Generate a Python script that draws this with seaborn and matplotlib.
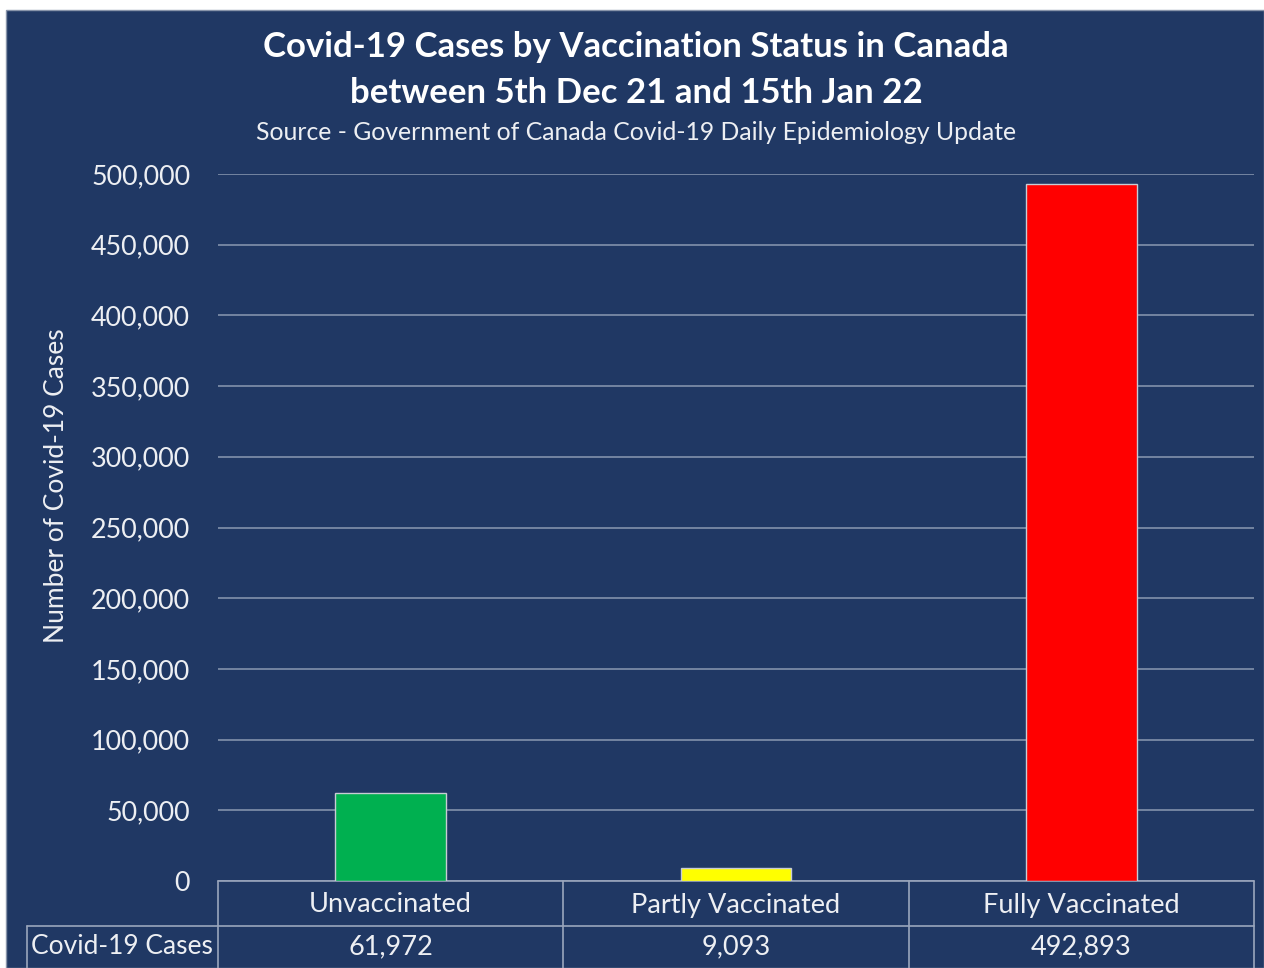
import matplotlib
matplotlib.use("Agg")
import matplotlib.pyplot as plt
import matplotlib.ticker as mticker
from matplotlib.patches import Rectangle
import pandas as pd
import seaborn as sns

# ------------------------------------------------------------
# data
# ------------------------------------------------------------
statuses = ["Unvaccinated", "Partly Vaccinated", "Fully Vaccinated"]
cases = [61972, 9093, 492893]
bar_colors = ["#00B050", "#FFFF00", "#FF0000"]
row_label = "Covid-19 Cases"

title_lines = ["Covid-19 Cases by Vaccination Status in Canada",
               "between 5th Dec 21 and 15th Jan 22"]
subtitle = "Source - Government of Canada Covid-19 Daily Epidemiology Update"

df = pd.DataFrame({"Status": statuses, "Cases": cases})

NAVY = "#203864"
GRID = "#7A8AA6"
TXT = "#EDEFF3"

sns.set_theme(style="white")
plt.rcParams["font.family"] = ["Lato", "DejaVu Sans"]

W, H = 1264, 968
fig = plt.figure(figsize=(W / 100, H / 100), dpi=100, facecolor="white")
fig.patches.append(Rectangle((6 / W, 0), 1 - 6 / W, 1 - 10 / H,
                             transform=fig.transFigure, facecolor=NAVY,
                             edgecolor="#8894AA", lw=1.0, zorder=-5))

left, right = 218 / W, 1254 / W
bottom, top = 1 - 881 / H, 1 - 174 / H
ax = fig.add_axes([left, bottom, right - left, top - bottom])
ax.set_facecolor("none")
ax.set_zorder(2)

sns.barplot(data=df, x="Status", y="Cases", hue="Status", palette=bar_colors,
            legend=False, width=0.32, saturation=1, edgecolor="#C8CCD4",
            linewidth=1.0, ax=ax, zorder=3)

ax.set_xlim(-0.5, 2.5)
ax.set_ylim(0, 500000)
ax.yaxis.set_major_locator(mticker.MultipleLocator(50000))
ax.yaxis.set_major_formatter(mticker.FuncFormatter(lambda v, p: f"{int(v):,}"))
ax.grid(axis="y", color=GRID, lw=1.3, zorder=0)
ax.grid(axis="x", visible=False)
ax.set_axisbelow(True)
for s in ax.spines.values():
    s.set_visible(False)
ax.tick_params(axis="y", length=0, pad=20, labelsize=19.4, labelcolor=TXT)
ax.set_xticks([])
ax.set_xlabel("")
ax.set_ylabel("Number of Covid-19 Cases", fontsize=19, color=TXT)
# Excel centres the title a little above the middle of the plot area
ax.yaxis.set_label_coords((69 - 218) / 1036, (881 - 486) / 707)

# ------------------------------------------------------------
# data table under the axis
# ------------------------------------------------------------
px = 1 / (881 - 174)          # one pixel in axes fraction (vertical)
hdr_bot = -45 * px
row_bot = -100 * px
row_left = (27 - 218) / (1254 - 218) * 3 - 0.5   # in data x units
tr = ax.get_xaxis_transform()
line_kw = dict(color="#9AA6BC", lw=1.2, transform=tr, clip_on=False)

ax.plot([-0.5, 2.5], [0, 0], **line_kw)
ax.plot([row_left, 2.5], [hdr_bot, hdr_bot], **line_kw)
for xb in [-0.5, 0.5, 1.5, 2.5]:
    ax.plot([xb, xb], [0, row_bot], **line_kw)
ax.plot([row_left, row_left], [hdr_bot, row_bot], **line_kw)

for i, (name, val) in enumerate(zip(statuses, cases)):
    ax.text(i, -24 * px, name, ha="center", va="center", fontsize=19.5,
            color=TXT, transform=tr)
    ax.text(i, -66 * px, f"{val:,}", ha="center", va="center", fontsize=19.5,
            color=TXT, transform=tr)
ax.text(row_left + 0.013, -66 * px, row_label, ha="left", va="center",
        fontsize=19, color=TXT, transform=tr)

# ------------------------------------------------------------
# titles
# ------------------------------------------------------------
fig.text(636 / W, 1 - 47 / H, title_lines[0], ha="center", va="center",
         fontsize=25, fontweight="bold", color="white")
fig.text(636 / W, 1 - 93 / H, title_lines[1], ha="center", va="center",
         fontsize=25, fontweight="bold", color="white")
fig.text(636 / W, 1 - 133 / H, subtitle, ha="center", va="center",
         fontsize=17.8, color=TXT)

fig.savefig("out.png", dpi=100, facecolor=fig.get_facecolor())
